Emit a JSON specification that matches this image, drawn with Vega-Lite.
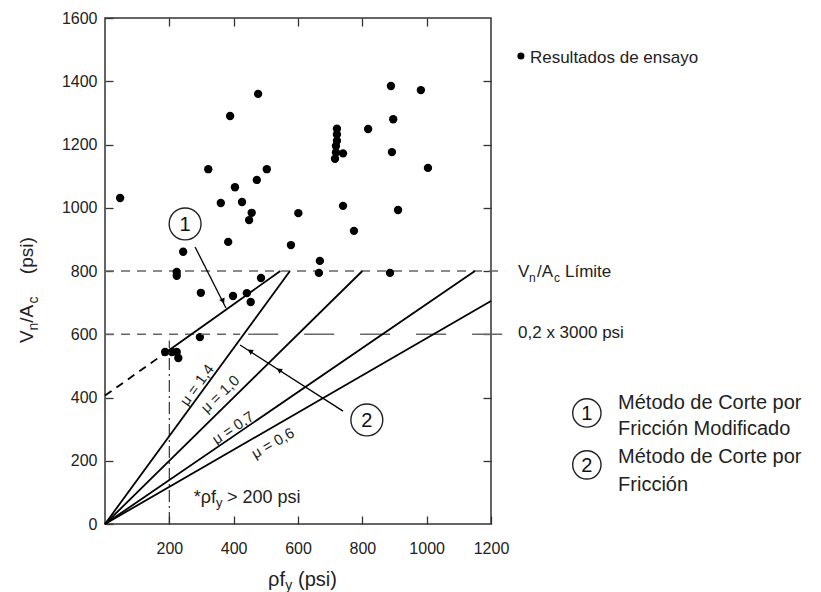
{
"$schema": "https://vega.github.io/schema/vega-lite/v6.json",
"width": 386, "height": 506,
"autosize": {"type": "none"},
"padding": {"left": 105, "top": 18, "right": 330, "bottom": 68},
"background": "white",
"datasets": {
"pts": [{"x":47,"y":1031},{"x":389,"y":1290},{"x":476,"y":1360},{"x":321,"y":1122},{"x":503,"y":1122},{"x":404,"y":1065},{"x":472,"y":1088},{"x":360,"y":1015},{"x":426,"y":1018},{"x":456,"y":984},{"x":448,"y":961},{"x":383,"y":892},{"x":243,"y":861},{"x":223,"y":797},{"x":223,"y":785},{"x":578,"y":882},{"x":601,"y":983},{"x":485,"y":778},{"x":298,"y":731},{"x":398,"y":721},{"x":441,"y":730},{"x":453,"y":702},{"x":295,"y":591},{"x":187,"y":544},{"x":208,"y":544},{"x":223,"y":544},{"x":228,"y":525},{"x":889,"y":1385},{"x":982,"y":1372},{"x":896,"y":1280},{"x":818,"y":1249},{"x":721,"y":1250},{"x":721,"y":1232},{"x":721,"y":1212},{"x":718,"y":1195},{"x":718,"y":1175},{"x":740,"y":1172},{"x":715,"y":1155},{"x":892,"y":1176},{"x":1004,"y":1126},{"x":740,"y":1006},{"x":911,"y":993},{"x":774,"y":927},{"x":668,"y":832},{"x":665,"y":794},{"x":886,"y":794}],
"solid": [{"id":"m14","x":0,"y":0},{"id":"m14","x":575,"y":800},{"id":"m10","x":0,"y":0},{"id":"m10","x":800,"y":800},{"id":"m07","x":0,"y":0},{"id":"m07","x":1150,"y":800},{"id":"m06","x":0,"y":0},{"id":"m06","x":1200,"y":705},{"id":"mod","x":200,"y":550},{"id":"mod","x":545,"y":800}],
"arrows": [{"id":"a1","x":280,"y":876},{"id":"a1","x":376,"y":683},{"id":"a2","x":740,"y":357},{"id":"a2","x":420,"y":566}],
"moddash": [{"x":0,"y":406},{"x":200,"y":550}],
"h800": [{"x":0,"y":800},{"x":1244,"y":800}],
"h600s": [{"x":0,"y":600},{"x":420,"y":600}],
"h600l": [{"x":445,"y":600},{"x":1244,"y":600}],
"vdd": [{"x":200,"y":0},{"x":200,"y":580}],
"ah1": [{"x":367,"y":705}],
"ah2": [{"x":451,"y":547},{"x":541,"y":487}],
"circplot": [{"x":249,"y":949},{"x":814,"y":329}],
"circleg": [{"x":1498,"y":351},{"x":1498,"y":187}],
"nums": [{"x":249,"y":949,"t":"1"},{"x":814,"y":329,"t":"2"},{"x":1498,"y":351,"t":"1"},{"x":1498,"y":187,"t":"2"}],
"legdot": [{"x":1293,"y":1480}],
"t17": [{"x":1321,"y":1458,"t":"Resultados de ensayo"},{"x":1284,"y":781,"t":"V"},{"x":1343,"y":781,"t":"/A"},{"x":1430,"y":781,"t":"Límite"},{"x":1284,"y":588,"t":"0,2 x 3000 psi"}],
"t17sub": [{"x":1318,"y":765,"t":"n"},{"x":1396,"y":765,"t":"c"}],
"tleg": [{"x":1595,"y":364,"t":"Método de Corte por"},{"x":1595,"y":281,"t":"Fricción Modificado"},{"x":1595,"y":193,"t":"Método de Corte por"},{"x":1595,"y":104,"t":"Fricción"}],
"mu14": [{"x":286,"y":440,"t":"μ = 1,4"}],
"mu10": [{"x":358,"y":411,"t":"μ = 1,0"}],
"mu07": [{"x":398,"y":304,"t":"μ = 0,7"}],
"mu06": [{"x":522,"y":256,"t":"μ = 0,6"}],
"noteR": [{"x":345,"y":66,"t":"*ρf"}],
"noteL": [{"x":379,"y":66,"t":"> 200 psi"}],
"noteSub": [{"x":345,"y":54,"t":"y"}],
"xt": [{"x":507,"y":-196,"t":"ρf"},{"x":600,"y":-196,"t":"(psi)"}],
"xtsub": [{"x":560,"y":-209,"t":"y"}],
"yt": [{"x":-224,"y":572,"t":"V"},{"x":-224,"y":636,"t":"/A"},{"x":-224,"y":790,"t":"(psi)"}],
"ytsub": [{"x":-208,"y":612,"t":"n"},{"x":-208,"y":697,"t":"c"}]
},
"encoding": {
"x": {"field":"x","type":"quantitative","scale":{"domain":[0,1200],"nice":false,"zero":false},"axis":null},
"y": {"field":"y","type":"quantitative","scale":{"domain":[0,1600],"nice":false,"zero":false},"axis":null}
},
"layer": [
{"data":{"name":"h800"},"mark":{"type":"line","color":"#666","strokeWidth":1.4,"strokeDash":[9,7]},
 "encoding":{"x":{"field":"x","type":"quantitative","scale":{"domain":[0,1200],"nice":false,"zero":false},"axis":{"orient":"top","values":[200,400,600,800,1000],"labels":false,"title":null}},
 "y":{"field":"y","type":"quantitative","scale":{"domain":[0,1600],"nice":false,"zero":false},"axis":{"orient":"right","values":[200,400,600,800,1000,1200,1400],"labels":false,"title":null}}}},
{"data":{"name":"pts"},"mark":{"type":"point","filled":true,"color":"black","size":70,"opacity":1,"shape":"circle"},
 "encoding":{"x":{"field":"x","type":"quantitative","scale":{"domain":[0,1200],"nice":false,"zero":false},"axis":{"orient":"bottom","values":[200,400,600,800,1000,1200],"format":"d","labelFlush":false,"labelPadding":24,"title":null}},
 "y":{"field":"y","type":"quantitative","scale":{"domain":[0,1600],"nice":false,"zero":false},"axis":{"orient":"left","values":[0,200,400,600,800,1000,1200,1400,1600],"format":"d","labelFlush":false,"labelPadding":16,"title":null}}}},
{"data":{"name":"h600s"},"mark":{"type":"line","color":"#666","strokeWidth":1.4,"strokeDash":[9,7]},"encoding":{}},
{"data":{"name":"h600l"},"mark":{"type":"line","color":"#666","strokeWidth":1.4,"strokeDash":[30,26]},"encoding":{}},
{"data":{"name":"vdd"},"mark":{"type":"line","color":"#333","strokeWidth":1.2,"strokeDash":[12,4,2,4]},"encoding":{}},
{"data":{"name":"moddash"},"mark":{"type":"line","color":"black","strokeWidth":1.8,"strokeDash":[8,6]},"encoding":{}},
{"data":{"name":"solid"},"mark":{"type":"line","color":"black","strokeWidth":1.8},"encoding":{"detail":{"field":"id"}}},
{"data":{"name":"arrows"},"mark":{"type":"line","color":"black","strokeWidth":1.3},"encoding":{"detail":{"field":"id"}}},
{"data":{"name":"ah1"},"mark":{"type":"point","shape":"triangle-down","filled":true,"color":"black","size":35,"angle":334,"opacity":1},"encoding":{}},
{"data":{"name":"ah2"},"mark":{"type":"point","shape":"triangle-up","filled":true,"color":"black","size":35,"angle":303,"opacity":1},"encoding":{}},
{"data":{"name":"circplot"},"mark":{"type":"point","shape":"circle","filled":false,"color":"#222","strokeWidth":1.4,"size":1018,"opacity":1},"encoding":{}},
{"data":{"name":"circleg"},"mark":{"type":"point","shape":"circle","filled":false,"color":"#222","strokeWidth":1.4,"size":804,"opacity":1},"encoding":{}},
{"data":{"name":"nums"},"mark":{"type":"text","fontSize":20,"align":"center","baseline":"middle","dy":1,"color":"#111"},"encoding":{"text":{"field":"t"}}},
{"data":{"name":"legdot"},"mark":{"type":"point","shape":"circle","filled":true,"color":"black","size":50,"opacity":1},"encoding":{}},
{"data":{"name":"t17"},"mark":{"type":"text","fontSize":17,"align":"left","baseline":"alphabetic","color":"#222"},"encoding":{"text":{"field":"t"}}},
{"data":{"name":"t17sub"},"mark":{"type":"text","fontSize":12,"align":"left","baseline":"alphabetic","color":"#222"},"encoding":{"text":{"field":"t"}}},
{"data":{"name":"tleg"},"mark":{"type":"text","fontSize":20,"align":"left","baseline":"alphabetic","color":"#222"},"encoding":{"text":{"field":"t"}}},
{"data":{"name":"mu14"},"mark":{"type":"text","fontSize":15,"align":"center","baseline":"middle","angle":306,"color":"#222"},"encoding":{"text":{"field":"t"}}},
{"data":{"name":"mu10"},"mark":{"type":"text","fontSize":15,"align":"center","baseline":"middle","angle":316,"color":"#222"},"encoding":{"text":{"field":"t"}}},
{"data":{"name":"mu07"},"mark":{"type":"text","fontSize":15,"align":"center","baseline":"middle","angle":326,"color":"#222"},"encoding":{"text":{"field":"t"}}},
{"data":{"name":"mu06"},"mark":{"type":"text","fontSize":15,"align":"center","baseline":"middle","angle":330,"color":"#222"},"encoding":{"text":{"field":"t"}}},
{"data":{"name":"noteR"},"mark":{"type":"text","fontSize":18,"align":"right","baseline":"alphabetic","color":"#222"},"encoding":{"text":{"field":"t"}}},
{"data":{"name":"noteL"},"mark":{"type":"text","fontSize":18,"align":"left","baseline":"alphabetic","color":"#222"},"encoding":{"text":{"field":"t"}}},
{"data":{"name":"noteSub"},"mark":{"type":"text","fontSize":13,"align":"left","baseline":"alphabetic","color":"#222"},"encoding":{"text":{"field":"t"}}},
{"data":{"name":"xt"},"mark":{"type":"text","fontSize":20,"align":"left","baseline":"alphabetic","color":"#222"},"encoding":{"text":{"field":"t"}}},
{"data":{"name":"xtsub"},"mark":{"type":"text","fontSize":14,"align":"left","baseline":"alphabetic","color":"#222"},"encoding":{"text":{"field":"t"}}},
{"data":{"name":"yt"},"mark":{"type":"text","fontSize":19,"align":"left","baseline":"alphabetic","angle":270,"color":"#222"},"encoding":{"text":{"field":"t"}}},
{"data":{"name":"ytsub"},"mark":{"type":"text","fontSize":14,"align":"left","baseline":"alphabetic","angle":270,"color":"#222"},"encoding":{"text":{"field":"t"}}}
],
"resolve": {"axis": {"x": "independent", "y": "independent"}},
"config": {
"font": "Liberation Sans",
"view": {"stroke": "#333", "strokeWidth": 1.5},
"axis": {"grid": false, "domain": false, "ticks": true, "tickColor": "#333", "tickWidth": 1.3, "tickSize": -8, "labelFont": "Liberation Sans", "labelFontSize": 16, "labelColor": "#222"}
}
}
